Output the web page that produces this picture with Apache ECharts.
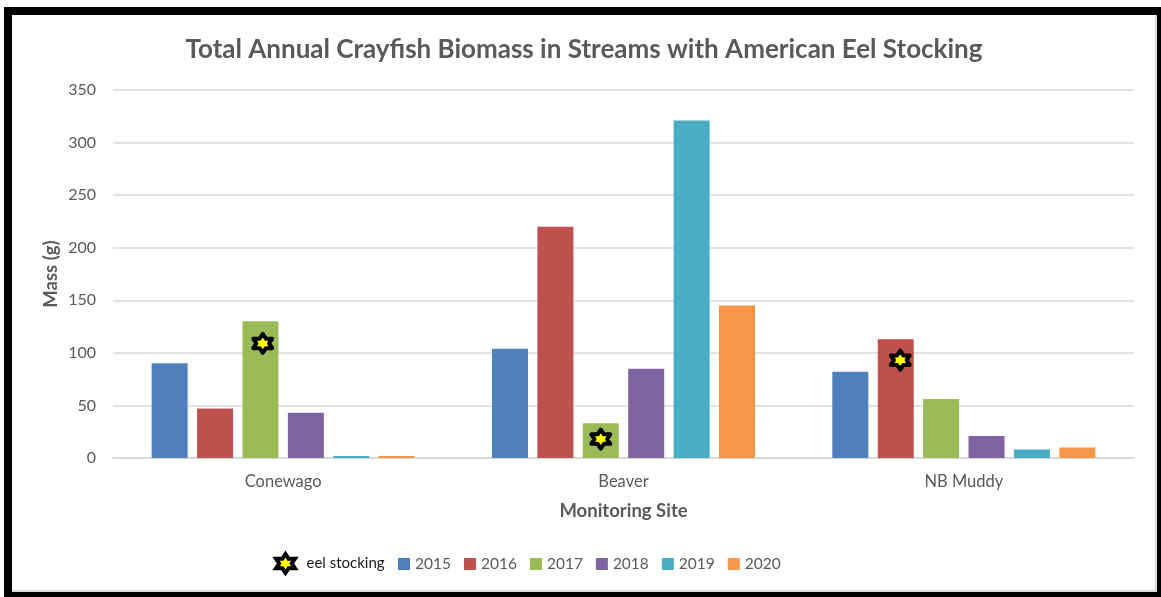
<!DOCTYPE html>
<html><head><meta charset="utf-8">
<style>html,body{margin:0;padding:0;background:#fff}#c{width:1161px;height:597px}</style>
<script src="https://cdn.jsdelivr.net/npm/echarts@6/dist/echarts.min.js"></script>
</head><body><div id="c"></div>
<script>
const categories = ['Conewago', 'Beaver', 'NB Muddy'];
const years = ['2015', '2016', '2017', '2018', '2019', '2020'];
const v2015 = [90, 104, 82];
const v2016 = [47, 220, 113];
const v2017 = [130, 33, 56];
const v2018 = [43, 85, 21];
const v2019 = [2, 321, 8];
const v2020 = [2, 145, 10];
const colors = ['#4F81BD', '#C0504D', '#9BBB59', '#8064A2', '#4BACC6', '#F79646'];
const yTicks = { min: 0, max: 350, interval: 50 };
// eel stocking marks: [site index, height on the mass axis, position across the site in year slots]
const eelSite = [0, 1, 2];
const eelMass = [109, 18, 93];
const eelSlot = [2.05, 2, 1.1];

const font = 'Lato';
const grey = '#595959';
const barW = 36, pitch = 45.4;
function starPoints(r) {
  const pts = [];
  for (let i = 0; i < 12; i++) {
    const rad = i % 2 ? r / Math.sqrt(3) : r;
    const a = -Math.PI / 2 + i * Math.PI / 6;
    pts.push([1.15 * rad * Math.cos(a), rad * Math.sin(a)]);
  }
  return pts;
}
const starIcon = 'path://' + starPoints(10).map((p, i) => (i ? 'L' : 'M') + (p[0] + 12).toFixed(3) + ' ' + (p[1] + 10).toFixed(3)).join(' ') + ' Z';

const chart = echarts.init(document.getElementById('c'), null, { renderer: 'canvas' });
const allValues = [v2015, v2016, v2017, v2018, v2019, v2020];
const barSeries = years.map((y, i) => ({
  name: y, type: 'bar', data: allValues[i], barWidth: barW, barGap: ((pitch - barW) / barW * 100) + '%',
  itemStyle: { color: colors[i] }, z: 2
}));
chart.setOption({
  animation: false,
  backgroundColor: '#fff',
  title: {
    text: 'Total Annual Crayfish Biomass in Streams with American Eel Stocking',
    left: 579, top: 32, textAlign: 'center',
    textStyle: { fontFamily: font, fontWeight: 'bold', fontSize: 26, color: grey }
  },
  grid: { left: 113, right: 27, top: 90, height: 368 },
  legend: [
    { data: years.map(y => ({ name: y, icon: 'rect' })), left: 393, top: 551, itemWidth: 12, itemHeight: 12, itemGap: 13,
      textStyle: { fontFamily: font, fontSize: 15.5, color: grey } },
    { data: [{ name: 'eel stocking', icon: starIcon, itemStyle: { color: '#FFFF00', borderColor: '#000', borderWidth: 4 } }],
      left: 269, top: 547, itemWidth: 20, itemHeight: 19,
      textStyle: { fontFamily: font, fontSize: 15, color: '#1a1a1a', padding: [0, 0, 0, 6] } }
  ],
  xAxis: {
    type: 'category', data: categories,
    name: 'Monitoring Site', nameLocation: 'middle', nameGap: 44,
    nameTextStyle: { fontFamily: font, fontWeight: 'bold', fontSize: 18.5, color: grey },
    axisLine: { lineStyle: { color: '#d9d9d9', width: 2 } }, axisTick: { show: false },
    axisLabel: { fontFamily: font, fontSize: 16.5, color: grey, margin: 15 }
  },
  yAxis: {
    type: 'value', min: yTicks.min, max: yTicks.max, interval: yTicks.interval,
    name: 'Mass (g)', nameLocation: 'middle', nameGap: 52, nameMoveOverlap: false,
    nameTextStyle: { fontFamily: font, fontWeight: 'bold', fontSize: 18.5, color: grey },
    axisLine: { show: false }, axisTick: { show: false },
    splitLine: { lineStyle: { color: '#d9d9d9', width: 1.5 } },
    axisLabel: { fontFamily: font, fontSize: 16, color: grey, margin: 17 }
  },
  graphic: { elements: [
    { type: 'rect', z: -10, silent: true, shape: { x: 4, y: 7, width: 1157, height: 590 }, style: { fill: '#000' } },
    { type: 'rect', z: -9, silent: true, shape: { x: 12, y: 15, width: 1145, height: 577 }, style: { fill: '#d9d9d9' } },
    { type: 'rect', z: -8, silent: true, shape: { x: 12, y: 15, width: 1143, height: 575 }, style: { fill: '#fff' } }
  ] },
  series: barSeries.concat([{
    name: 'eel stocking', type: 'custom', z: 5,
    data: eelSite.map((s, i) => [s, eelMass[i], eelSlot[i]]),
    encode: { x: 0, y: 1 },
    itemStyle: { color: '#FFFF00', borderColor: '#000', borderWidth: 4 },
    renderItem(params, api) {
      const c = api.coord([api.value(0), api.value(1)]);
      const x = c[0] + (api.value(2) - 2.5) * pitch;
      return {
        type: 'polygon', x, y: c[1],
        shape: { points: starPoints(9.5) },
        style: { fill: '#FFFF00', stroke: '#000', lineWidth: 4, lineJoin: 'round' }
      };
    }
  }])
});
</script></body></html>
